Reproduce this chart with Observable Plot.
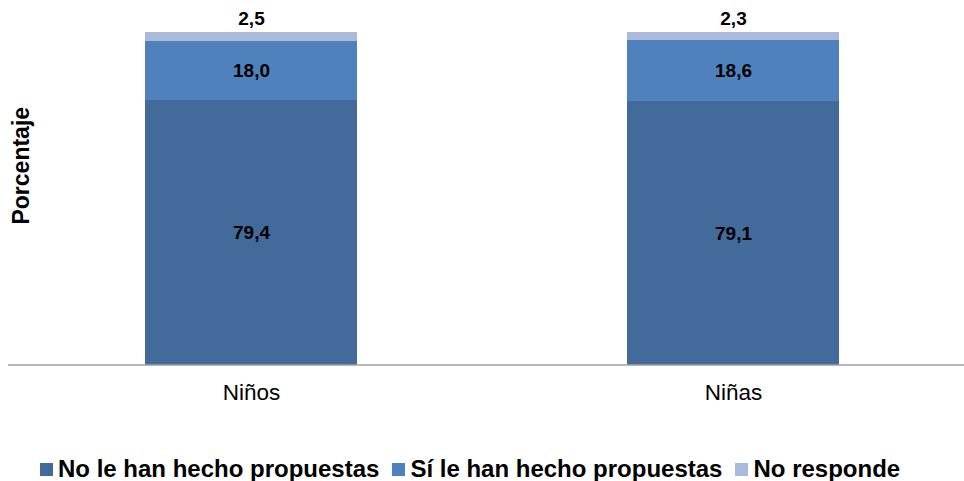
<!DOCTYPE html>
<html>
<head>
<meta charset="utf-8">
<script src="https://cdn.jsdelivr.net/npm/d3@7"></script>
<script src="https://cdn.jsdelivr.net/npm/@observablehq/plot@0.6"></script>
<style>
  body { margin: 0; background: #fff; font-family: "Liberation Sans", Arial, sans-serif; }
  #legend { display: flex; align-items: center; padding-left: 40px; margin-top: 35px; font-weight: bold; font-size: 24px; color: #000; }
  .item { display: flex; align-items: center; margin-right: 13px; }
  .sw { width: 13px; height: 13px; margin-right: 5px; }
</style>
</head>
<body>
<div id="chart"></div>
<div id="legend"></div>
<script>
const categories = ["Niños", "Niñas"];
const series = ["No le han hecho propuestas", "Sí le han hecho propuestas", "No responde"];
const valuesNinos = [79.4, 18.0, 2.5];
const valuesNinas = [79.1, 18.6, 2.3];
const colors = ["#426A9B", "#4F81BD", "#A9BADA"];
const yLabel = "Porcentaje";

const allValues = [valuesNinos, valuesNinas];
const data = [];
categories.forEach((c, i) => series.forEach((s, j) => data.push({cat: c, series: s, value: allValues[i][j]})));
const fmt = v => v.toFixed(1).replace(".", ",");
const topSeries = series[series.length - 1];

const chart = Plot.plot({
  width: 964,
  height: 420,
  marginLeft: 8,
  marginRight: 0,
  marginTop: 32,
  marginBottom: 55.5,
  style: {fontFamily: "Liberation Sans, Arial, sans-serif", background: "#fff"},
  x: {domain: categories, paddingInner: 0.56, paddingOuter: 0.2717, align: 0.523, label: null},
  y: {domain: [0, 100], axis: null},
  color: {domain: series, range: colors},
  marks: [
    Plot.barY(data, Plot.stackY({x: "cat", y: "value", z: "series", fill: "series", order: series, shapeRendering: "crispEdges"})),
    Plot.ruleY([0], {stroke: "#A0A0A0", strokeWidth: 1.5}),
    Plot.axisX({tickSize: 0, tickPadding: 19, fontSize: 22.5, fill: "#000", label: null}),
    Plot.text(data, Plot.stackY({x: "cat", y: "value", z: "series", order: series,
      text: d => d.series === topSeries ? "" : fmt(d.value), fontSize: 19, fontWeight: "bold", fill: "#000"})),
    Plot.text(data, Plot.stackY2({x: "cat", y: "value", z: "series", order: series,
      text: d => d.series === topSeries ? fmt(d.value) : "", dy: -14, fontSize: 19, fontWeight: "bold", fill: "#000"})),
    Plot.text([yLabel], {frameAnchor: "left", textAnchor: "middle", rotate: -90, dx: 13, dy: -33, fontSize: 23, fontWeight: "bold", fill: "#000"})
  ]
});
document.getElementById("chart").appendChild(chart);

const legend = document.getElementById("legend");
series.forEach((s, i) => {
  const item = document.createElement("div");
  item.className = "item";
  const sw = document.createElement("span");
  sw.className = "sw";
  sw.style.background = colors[i];
  const t = document.createElement("span");
  t.textContent = s;
  item.appendChild(sw);
  item.appendChild(t);
  legend.appendChild(item);
});
</script>
</body>
</html>
